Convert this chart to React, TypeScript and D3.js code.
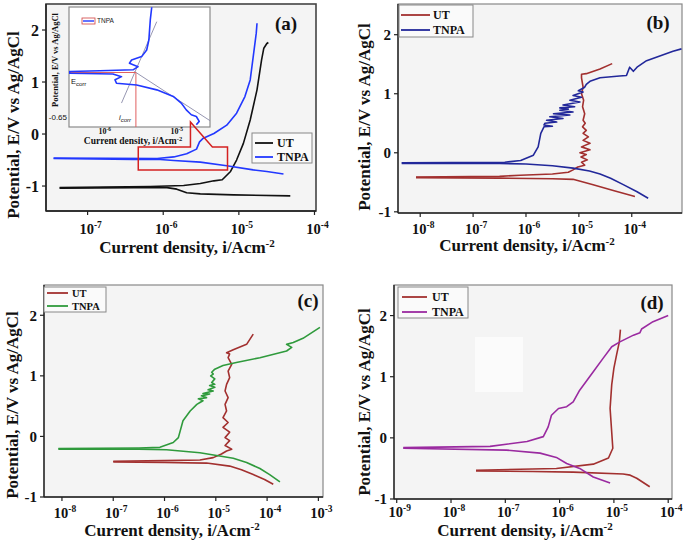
import React from 'react';
import * as d3 from 'd3';

type P = [number, number]; // [log10(i / A cm^-2), E / V]

// ---------- Panel (a) ----------
const aUTCath: P[] = [[-7.37,-1.04],[-6.39,-1.03],[-5.95,-1.03],[-5.82,-1.06],[-5.69,-1.13],[-5.51,-1.15],[-5.07,-1.17],[-4.32,-1.19]];
const aUTAnod: P[] = [[-7.37,-1.03],[-6.17,-1.01],[-5.73,-0.99],[-5.51,-0.95],[-5.33,-0.9],[-5.22,-0.88],[-5.11,-0.72],[-5.03,-0.5],[-4.94,-0.18],[-4.85,0.27],[-4.76,0.85],[-4.7,1.42],[-4.67,1.65],[-4.63,1.74],[-4.61,1.76]];
const aTNCath: P[] = [[-7.45,-0.47],[-6.39,-0.49],[-6.04,-0.49],[-5.86,-0.51],[-5.51,-0.54],[-5.16,-0.61],[-4.81,-0.69],[-4.63,-0.72],[-4.41,-0.77]];
const aTNAnod: P[] = [[-7.45,-0.46],[-6.08,-0.47],[-5.86,-0.44],[-5.69,-0.38],[-5.56,-0.29],[-5.52,-0.15],[-5.47,-0.08],[-5.33,0.01],[-5.16,0.17],[-5.03,0.4],[-4.92,0.72],[-4.85,1.04],[-4.81,1.49],[-4.77,1.94],[-4.76,2.13]];
// inset of (a): zoom on TNPA near Ecorr
const insetTN: P[] = [[-5.32,-0.201],[-5.34,-0.253],[-5.35,-0.294],[-5.36,-0.335],[-5.39,-0.376],[-5.46,-0.403],[-5.6,-0.417],[-5.63,-0.43],[-5.51,-0.444],[-5.58,-0.457],[-6.04,-0.461],[-6.46,-0.464],[-6.46,-0.471],[-5.86,-0.474],[-5.74,-0.485],[-5.83,-0.498],[-5.81,-0.512],[-5.53,-0.519],[-5.25,-0.539],[-5.02,-0.566],[-4.91,-0.593],[-4.84,-0.621],[-4.77,-0.641],[-4.7,-0.648],[-4.66,-0.668],[-4.7,-0.682]];
const insetTafelA: P[] = [[-5.25,-0.26],[-5.74,-0.593]];
const insetTafelC: P[] = [[-5.56,-0.464],[-4.5,-0.667]];
const insetEcorr = -0.468;
const insetIcorr = -5.54;
const insetXTicks = [-6, -5];
const aZoomBox = { logLo: -6.33, logHi: -5.15, eLo: -0.69, eHi: -0.25, tipLog: -5.64, tipE: 0.23, diagLog: -5.35 };

// ---------- Panel (b) ----------
const bUTCath: P[] = [[-8.08,-0.42],[-6.5,-0.43],[-5.5,-0.44],[-5.11,-0.45],[-4.73,-0.54],[-4.35,-0.64],[-3.94,-0.74]];
const bUTAnod: P[] = [[-8.08,-0.41],[-6.5,-0.4],[-6.11,-0.38],[-5.5,-0.36],[-5.2,-0.33],[-5.11,-0.29],[-5.02,-0.24],[-4.89,-0.21],[-4.95,-0.16],[-4.84,-0.12],[-4.96,-0.07],[-4.86,-0.03],[-4.98,0.0],[-4.79,0.05],[-4.95,0.1],[-4.79,0.16],[-4.92,0.21],[-4.82,0.27],[-4.92,0.33],[-4.86,0.38],[-4.93,0.44],[-4.88,0.5],[-4.92,0.55],[-4.89,0.66],[-4.93,0.78],[-4.91,0.89],[-4.95,1.0],[-4.92,1.11],[-4.95,1.27],[-4.95,1.33],[-4.86,1.34],[-4.6,1.42],[-4.37,1.51]];
const bTNCath: P[] = [[-8.35,-0.18],[-6.5,-0.18],[-6.0,-0.19],[-5.5,-0.22],[-5.11,-0.26],[-4.8,-0.31],[-4.6,-0.36],[-4.4,-0.43],[-4.16,-0.54],[-3.9,-0.66],[-3.69,-0.77]];
const bTNAnod: P[] = [[-8.35,-0.17],[-6.4,-0.16],[-6.1,-0.13],[-5.86,-0.04],[-5.77,0.1],[-5.72,0.33],[-5.66,0.44],[-5.5,0.45],[-5.66,0.47],[-5.64,0.5],[-5.42,0.52],[-5.61,0.55],[-5.3,0.58],[-5.55,0.61],[-5.17,0.64],[-5.48,0.66],[-5.11,0.69],[-5.36,0.72],[-5.2,0.74],[-5.36,0.76],[-5.08,0.78],[-5.3,0.81],[-4.98,0.86],[-5.17,0.89],[-4.95,0.94],[-5.11,0.97],[-4.92,1.03],[-5.01,1.05],[-4.89,1.11],[-4.86,1.16],[-4.79,1.21],[-4.6,1.27],[-4.23,1.3],[-4.1,1.31],[-4.04,1.45],[-3.97,1.38],[-3.9,1.45],[-3.72,1.56],[-3.22,1.72],[-3.06,1.76]];

// ---------- Panel (c) ----------
const cUTCath: P[] = [[-7.0,-0.42],[-6.0,-0.43],[-5.18,-0.44],[-4.73,-0.49],[-4.5,-0.55],[-4.27,-0.63],[-4.05,-0.71],[-3.88,-0.79]];
const cUTAnod: P[] = [[-7.0,-0.41],[-6.0,-0.4],[-5.31,-0.39],[-5.05,-0.35],[-4.89,-0.29],[-4.79,-0.24],[-4.69,-0.21],[-4.82,-0.15],[-4.73,-0.07],[-4.82,-0.02],[-4.73,0.07],[-4.86,0.15],[-4.76,0.23],[-4.86,0.31],[-4.79,0.42],[-4.82,0.53],[-4.76,0.64],[-4.82,0.75],[-4.79,0.86],[-4.73,0.97],[-4.76,1.08],[-4.69,1.19],[-4.76,1.3],[-4.73,1.36],[-4.79,1.38],[-4.66,1.43],[-4.4,1.52],[-4.27,1.69]];
const cTNCath: P[] = [[-8.07,-0.21],[-6.5,-0.21],[-5.96,-0.22],[-5.31,-0.27],[-4.66,-0.36],[-4.4,-0.43],[-4.14,-0.53],[-3.95,-0.63],[-3.75,-0.75]];
const cTNAnod: P[] = [[-8.07,-0.2],[-6.5,-0.19],[-6.09,-0.18],[-5.83,-0.1],[-5.73,-0.02],[-5.64,0.26],[-5.5,0.42],[-5.37,0.53],[-5.31,0.56],[-5.25,0.59],[-5.34,0.62],[-5.18,0.64],[-5.28,0.67],[-5.12,0.7],[-5.25,0.71],[-5.05,0.75],[-5.15,0.77],[-5.02,0.81],[-5.12,0.84],[-5.02,0.86],[-5.08,0.89],[-5.02,0.95],[-5.1,1.0],[-5.05,1.03],[-5.08,1.06],[-5.02,1.11],[-4.86,1.17],[-4.6,1.22],[-4.14,1.3],[-3.62,1.41],[-3.52,1.47],[-3.62,1.52],[-3.49,1.55],[-3.3,1.62],[-2.97,1.8]];

// ---------- Panel (d) ----------
const dUTCath: P[] = [[-7.54,-0.54],[-6.5,-0.55],[-5.75,-0.56],[-4.83,-0.59],[-4.7,-0.61],[-4.58,-0.66],[-4.34,-0.8]];
const dUTAnod: P[] = [[-7.54,-0.53],[-6.06,-0.5],[-5.38,-0.43],[-5.1,-0.33],[-5.02,-0.17],[-5.07,0.48],[-5.04,0.87],[-5.0,1.14],[-4.95,1.36],[-4.9,1.57],[-4.88,1.77]];
const dTNCath: P[] = [[-8.88,-0.17],[-6.98,-0.2],[-6.36,-0.25],[-6.06,-0.32],[-5.87,-0.42],[-5.63,-0.5],[-5.38,-0.64],[-5.07,-0.74]];
const dTNAnod: P[] = [[-8.88,-0.16],[-7.28,-0.14],[-6.6,-0.06],[-6.3,0.02],[-6.21,0.18],[-6.15,0.37],[-6.02,0.48],[-5.87,0.51],[-5.75,0.59],[-5.63,0.78],[-5.38,1.08],[-5.2,1.3],[-5.04,1.49],[-4.89,1.57],[-4.64,1.68],[-4.52,1.72],[-4.49,1.78],[-4.28,1.9],[-4.0,2.0]];

const seriesNames = ['UT', 'TNPA'];
const yTicks = [-1, 0, 1, 2];
const xTicksA = [-7, -6, -5, -4];
const xTicksB = [-8, -7, -6, -5, -4];
const xTicksC = [-8, -7, -6, -5, -4, -3];
const xTicksD = [-9, -8, -7, -6, -5, -4];

const SERIF = "'Liberation Serif', 'Times New Roman', serif";
const SANS = "'Liberation Sans', Arial, sans-serif";

type Series = { color: string; cath: P[]; anod: P[] };
type Panel = {
  label: string; lx: number; ly: number;
  box: [number, number, number, number];
  xDom: [number, number]; yDom: [number, number];
  xTicks: number[];
  tickY: number; yTickSize: number;
  xTitle: [number, number]; yTitle: [number, number];
  series: Series[];
  legend: { box: [number, number, number, number]; rows: number[]; line: [number, number]; textX: number; size: number };
};

const panels: Panel[] = [
  {
    label: '(a)', lx: 286, ly: 30, box: [46, 4, 316, 211], xDom: [-7.55, -3.98], yDom: [-1.48, 2.5],
    xTicks: xTicksA, tickY: 234, yTickSize: 16, xTitle: [187, 253], yTitle: [19, 125],
    series: [{ color: '#111111', cath: aUTCath, anod: aUTAnod }, { color: '#2238ff', cath: aTNCath, anod: aTNAnod }],
    legend: { box: [252, 133, 312, 163], rows: [143, 157], line: [255, 273], textX: 277, size: 12 },
  },
  {
    label: '(b)', lx: 658, ly: 29, box: [398, 4, 682, 213], xDom: [-8.42, -3.05], yDom: [-1.02, 2.52],
    xTicks: xTicksB, tickY: 234, yTickSize: 15, xTitle: [527, 251], yTitle: [370, 117],
    series: [{ color: '#a2302f', cath: bUTCath, anod: bUTAnod }, { color: '#22289a', cath: bTNCath, anod: bTNAnod }],
    legend: { box: [399, 5, 473, 37], rows: [15, 30], line: [401, 430], textX: 433, size: 12 },
  },
  {
    label: '(c)', lx: 308, ly: 307, box: [44, 285, 323, 497], xDom: [-8.35, -2.91], yDom: [-1.0, 2.5],
    xTicks: xTicksC, tickY: 518, yTickSize: 15, xTitle: [172, 536], yTitle: [18, 405],
    series: [{ color: '#a2302f', cath: cUTCath, anod: cUTAnod }, { color: '#2f9a3c', cath: cTNCath, anod: cTNAnod }],
    legend: { box: [44, 287, 106, 312], rows: [293, 306], line: [47, 68], textX: 72, size: 10.5 },
  },
  {
    label: '(d)', lx: 652, ly: 309, box: [394, 285, 672, 499], xDom: [-9.05, -3.93], yDom: [-1.0, 2.5],
    xTicks: xTicksD, tickY: 517, yTickSize: 15, xTitle: [525, 536], yTitle: [370, 402],
    series: [{ color: '#a2302f', cath: dUTCath, anod: dUTAnod }, { color: '#9a2aa0', cath: dTNCath, anod: dTNAnod }],
    legend: { box: [398, 287, 468, 318], rows: [297, 312], line: [402, 427], textX: 432, size: 12 },
  },
];

function Pow10({ x, y, e, size, sup }: { x: number; y: number; e: number; size: number; sup: number }) {
  return (
    <text x={x} y={y} textAnchor="middle" fontFamily={SERIF} fontWeight="bold" fontSize={size} fill="#111">
      10<tspan dy={-size * 0.42} fontSize={sup}>{String(e)}</tspan>
    </text>
  );
}

function PanelView({ p, idx }: { p: Panel; idx: number }) {
  const [x0, y0, x1, y1] = p.box;
  const x = d3.scaleLog().domain([10 ** p.xDom[0], 10 ** p.xDom[1]]).range([x0, x1]);
  const y = d3.scaleLinear().domain(p.yDom).range([y1, y0]);
  const line = d3.line<P>().x(d => x(10 ** d[0])).y(d => y(d[1]));
  const clipId = `clip-${idx}`;
  return (
    <g>
      <defs>
        <clipPath id={clipId}><rect x={x0} y={y0} width={x1 - x0} height={y1 - y0} /></clipPath>
      </defs>
      <rect x={x0} y={y0} width={x1 - x0} height={y1 - y0} fill="#f4f4f4" stroke={idx === 0 ? '#444' : '#888'} strokeWidth={idx === 0 ? 1.6 : 1.2} />
      {idx === 3 && <rect x={475} y={337} width={48} height={55} fill="#fbfbfb" />}
      <line x1={x0} y1={y0} x2={x0} y2={y1} stroke="#222" strokeWidth={1.4} />
      <line x1={x0} y1={y1} x2={x1} y2={y1} stroke="#222" strokeWidth={1.4} />
      {yTicks.map(t => (
        <g key={'y' + t}>
          <line x1={x0 - 4} x2={x0} y1={y(t)} y2={y(t)} stroke="#222" strokeWidth={1.2} />
          <text x={x0 - 7} y={y(t)} dy="0.35em" textAnchor="end" fontFamily={SERIF} fontWeight="bold" fontSize={p.yTickSize} fill="#111">{String(t)}</text>
        </g>
      ))}
      {p.xTicks.map(t => (
        <g key={'x' + t}>
          <line x1={x(10 ** t)} x2={x(10 ** t)} y1={y1} y2={y1 + 4} stroke="#222" strokeWidth={1.2} />
          <Pow10 x={x(10 ** t) + 3} y={p.tickY} e={t} size={14.5} sup={9.5} />
        </g>
      ))}
      <text x={p.xTitle[0]} y={p.xTitle[1]} textAnchor="middle" fontFamily={SERIF} fontWeight="bold" fontSize={17} fill="#111">
        Current density, i/Acm<tspan dy={-6.5} fontSize={11}>-2</tspan>
      </text>
      <text transform={`translate(${p.yTitle[0]},${p.yTitle[1]}) rotate(-90)`} textAnchor="middle" fontFamily={SERIF} fontWeight="bold" fontSize={17} fill="#111">
        Potential, E/V vs Ag/AgCl
      </text>
      <g clipPath={`url(#${clipId})`}>
        {p.series.map((s, i) => (
          <g key={i}>
            <path d={line(s.cath) || ''} fill="none" stroke={s.color} strokeWidth={1.6} strokeLinejoin="round" />
            <path d={line(s.anod) || ''} fill="none" stroke={s.color} strokeWidth={1.6} strokeLinejoin="round" />
          </g>
        ))}
      </g>
      {idx === 0 && <InsetA mainX={x} mainY={y} />}
      <rect x={p.legend.box[0]} y={p.legend.box[1]} width={p.legend.box[2] - p.legend.box[0]} height={p.legend.box[3] - p.legend.box[1]} fill="#fafafa" stroke="#888" strokeWidth={1} />
      {p.series.map((s, i) => (
        <g key={'lg' + i}>
          <line x1={p.legend.line[0]} x2={p.legend.line[1]} y1={p.legend.rows[i]} y2={p.legend.rows[i]} stroke={s.color} strokeWidth={1.8} />
          <text x={p.legend.textX} y={p.legend.rows[i]} dy="0.35em" fontFamily={SERIF} fontWeight="bold" fontSize={p.legend.size} fill="#111">{seriesNames[i]}</text>
        </g>
      ))}
      <text x={p.lx} y={p.ly} textAnchor="middle" fontFamily={SERIF} fontWeight="bold" fontSize={19} fill="#111">{p.label}</text>
    </g>
  );
}

function InsetA({ mainX, mainY }: { mainX: d3.ScaleLogarithmic<number, number>; mainY: d3.ScaleLinear<number, number> }) {
  const ix0 = 69, iy0 = 7, ix1 = 210, iy1 = 127;
  const x = d3.scaleLog().domain([10 ** -6.47, 10 ** -4.51]).range([ix0, ix1]);
  const y = d3.scaleLinear().domain([-0.691, -0.2]).range([iy1, iy0]);
  const line = d3.line<P>().x(d => x(10 ** d[0])).y(d => y(d[1]));
  const b = aZoomBox;
  const mx = (v: number) => mainX(10 ** v);
  const callout = [
    [mx(b.logLo), mainY(b.eHi)], [mx(b.tipLog), mainY(b.eHi)], [mx(b.tipLog), mainY(b.tipE)],
    [mx(b.diagLog), mainY(b.eHi)], [mx(b.logHi), mainY(b.eHi)], [mx(b.logHi), mainY(b.eLo)],
    [mx(b.logLo), mainY(b.eLo)],
  ] as [number, number][];
  return (
    <g>
      <defs>
        <clipPath id="clip-inset"><rect x={ix0} y={iy0} width={ix1 - ix0} height={iy1 - iy0} /></clipPath>
      </defs>
      <rect x={ix0} y={iy0} width={ix1 - ix0} height={iy1 - iy0} fill="#ffffff" stroke="#8a8a8a" strokeWidth={1.2} />
      <g clipPath="url(#clip-inset)">
        <path d={line(insetTafelA) || ''} fill="none" stroke="#8a8aa8" strokeWidth={0.9} />
        <path d={line(insetTafelC) || ''} fill="none" stroke="#8a8aa8" strokeWidth={0.9} />
        <path d={line([[-6.47, insetEcorr], [insetIcorr, insetEcorr]]) || ''} fill="none" stroke="#e06060" strokeWidth={1} />
        <path d={line([[insetIcorr, insetEcorr], [insetIcorr, -0.691]]) || ''} fill="none" stroke="#e06060" strokeWidth={1} />
        <path d={line(insetTN) || ''} fill="none" stroke="#2238ff" strokeWidth={1.6} strokeLinejoin="round" />
      </g>
      <rect x={82} y={18} width={13} height={6} fill="#fff" stroke="#d04040" strokeWidth={0.8} />
      <line x1={83} x2={94} y1={21} y2={21} stroke="#2238ff" strokeWidth={1.4} />
      <text x={97} y={21} dy="0.35em" fontFamily={SANS} fontSize={6.5} fill="#222">TNPA</text>
      <text x={71} y={84} fontFamily={SANS} fontSize={7.5} fill="#111">E<tspan dy={1.5} fontSize={6}>corr</tspan></text>
      <text x={119} y={120} fontFamily={SANS} fontStyle="italic" fontSize={7.5} fill="#111">i<tspan dy={1.5} fontSize={6}>corr</tspan></text>
      <text x={67} y={y(-0.65)} dy="0.35em" textAnchor="end" fontFamily={SANS} fontSize={8} fill="#111">-0.65</text>
      {insetXTicks.map(t => (
        <Pow10 key={t} x={x(10 ** t) + 2} y={134} e={t} size={8} sup={5.5} />
      ))}
      <text x={133} y={143.5} textAnchor="middle" fontFamily={SERIF} fontWeight="bold" fontSize={9.5} fill="#111">
        Current density, i/Acm<tspan dy={-3} fontSize={6.5}>-2</tspan>
      </text>
      <text transform={`translate(58,60) rotate(-90)`} textAnchor="middle" fontFamily={SERIF} fontWeight="bold" fontSize={8.5} fill="#111">
        Potential, E/V vs Ag/AgCl
      </text>
      <path d={d3.line()(callout) + 'Z'} fill="none" stroke="#d42020" strokeWidth={1.5} />
    </g>
  );
}

export default function App() {
  return (
    <svg width={685} height={545} style={{ display: 'block', position: 'absolute', left: 0, top: 0, background: '#fff' }}>
      {panels.map((p, i) => <PanelView key={i} p={p} idx={i} />)}
    </svg>
  );
}
